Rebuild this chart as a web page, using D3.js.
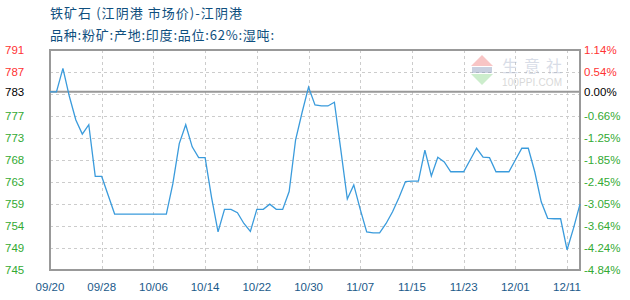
<!DOCTYPE html>
<html>
<head>
<meta charset="utf-8">
<script src="https://cdn.jsdelivr.net/npm/d3@7"></script>
<style>
  body { margin: 0; background: #fff; }
  svg { display: block; }
  .grid line { stroke: #ccc; stroke-dasharray: 3,3; }
</style>
</head>
<body>
<div id="chart"></div>
<script>
// date labels every 8 points along the x index
const dateLabels = ["09/20", "09/28", "10/06", "10/14", "10/22", "10/30", "11/07", "11/15", "11/23", "12/01", "12/11"];
const priceLabels = ["745", "749", "754", "759", "763", "768", "773", "777", "783", "787", "791"];
const pctLabels = ["-4.84%", "-4.24%", "-3.64%", "-3.05%", "-2.45%", "-1.85%", "-1.25%", "-0.66%", "0.00%", "0.54%", "1.14%"];
const basePrice = 783;
const yMin = 745.1, yMax = 791.9;

// price per point
const prices = [
  783, 783, 788, 782, 777, 774, 776, 765, 765, 761,
  757, 757, 757, 757, 757, 757, 757, 757, 757, 763.4,
  772, 776, 771.3, 769, 769, 760.5, 753.2, 758, 758, 757.3,
  755, 753.3, 758, 758, 759.1, 758, 758, 761.8, 772.8, 778.6,
  784, 780.2, 780, 780, 780.8, 770.6, 760.2, 763.2, 758, 753.2,
  753, 753, 755, 757.5, 760.5, 763.9, 764, 764, 770.6, 765.1,
  769.1, 768.1, 766, 766, 766, 768.5, 771, 769.1, 769, 766,
  766, 766, 768.5, 771, 771, 766, 759.6, 756.1, 756, 756,
  749.4, 754, 759.1
];

const margin = {left: 50, right: 50, top: 50, bottom: 30};
const width = 630, height = 300;

var svg = d3.select("#chart").append("svg")
  .attr("width", width)
  .attr("height", height);

var x = d3.scaleLinear()
  .domain([0, prices.length - 1])
  .range([margin.left, width - margin.right]);

var y = d3.scaleLinear()
  .domain([yMin, yMax])
  .range([height - margin.bottom, margin.top]);

var yTicks = d3.range(priceLabels.length).map(i => yMin + i * (yMax - yMin) / (priceLabels.length - 1));
var xTicks = dateLabels.map((d, i) => i * 8);

// title
svg.append("text")
  .attr("x", 50).attr("y", 18)
  .attr("textLength", 192)
  .style("font-family", "Noto Sans CJK SC")
  .style("font-size", "13px")
  .style("fill", "#0f4f7e")
  .text("铁矿石 (江阴港 市场价)-江阴港");

svg.append("text")
  .attr("x", 50).attr("y", 40)
  .attr("textLength", 224)
  .style("font-family", "Noto Sans CJK SC")
  .style("font-size", "13px")
  .style("fill", "#0f4f7e")
  .text("品种:粉矿:产地:印度:品位:62%:湿吨:");

// grid
var grid = svg.append("g").attr("class", "grid");
grid.selectAll(".h").data(yTicks).enter().append("line")
  .attr("x1", x(0)).attr("x2", x(prices.length - 1))
  .attr("y1", d => Math.round(y(d)) + 0.5).attr("y2", d => Math.round(y(d)) + 0.5);
grid.selectAll(".v").data(xTicks).enter().append("line")
  .attr("x1", d => Math.round(x(d)) + 0.5).attr("x2", d => Math.round(x(d)) + 0.5)
  .attr("y1", y(yMax)).attr("y2", y(yMin));

// watermark
var wm = svg.append("g").attr("opacity", 0.45);
wm.append("path").attr("d", "M471,66 L482,55 L493,66 Z").attr("fill", "#f08080");
wm.append("rect").attr("x", 472).attr("y", 67).attr("width", 20).attr("height", 6).attr("fill", "#8899bb");
wm.append("path").attr("d", "M471,74 L493,74 L482,85 Z").attr("fill", "#90d890");
wm.append("text").attr("x", 502).attr("y", 72)
  .attr("textLength", 60)
  .style("font-family", "Noto Sans CJK SC").style("font-size", "16px").style("fill", "#aab4cc")
  .text("生意社");
wm.append("text").attr("x", 502).attr("y", 86)
  .attr("textLength", 60)
  .style("font-family", "Liberation Sans").style("font-size", "10px").style("fill", "#aaaaaa")
  .text("100PPI.COM");

// base line
svg.append("line")
  .attr("x1", x(0)).attr("x2", x(prices.length - 1))
  .attr("y1", y(basePrice)).attr("y2", y(basePrice))
  .attr("stroke", "#999").attr("stroke-width", 2);

// frame
svg.append("rect")
  .attr("x", x(0)).attr("y", y(yMax))
  .attr("width", x(prices.length - 1) - x(0))
  .attr("height", y(yMin) - y(yMax))
  .attr("fill", "none").attr("stroke", "#999").attr("stroke-width", 2);

// price line
var line = d3.line()
  .x((d, i) => x(i))
  .y(d => y(d));

svg.append("path")
  .datum(prices)
  .attr("d", line)
  .attr("fill", "none")
  .attr("stroke", "#3a9bdc")
  .attr("stroke-width", 1.3);

function labelColor(i) {
  if (priceLabels[i] == String(basePrice)) return "#000";
  return +priceLabels[i] > basePrice ? "#ff3333" : "#33aa33";
}
function labelY(i) {
  return priceLabels[i] == String(basePrice) ? y(basePrice) : y(yTicks[i]);
}

// left axis labels
svg.selectAll(".pl").data(priceLabels).enter().append("text")
  .attr("x", 5)
  .attr("y", (d, i) => labelY(i))
  .attr("dy", "0.35em")
  .style("font-family", "Liberation Sans")
  .style("font-size", "11.5px")
  .style("fill", (d, i) => labelColor(i))
  .text(d => d);

// right axis labels
svg.selectAll(".rl").data(pctLabels).enter().append("text")
  .attr("x", 584)
  .attr("y", (d, i) => labelY(i))
  .attr("dy", "0.35em")
  .style("font-family", "Liberation Sans")
  .style("font-size", "11.5px")
  .style("fill", (d, i) => labelColor(i))
  .text(d => d);

// x labels
svg.selectAll(".xl").data(dateLabels).enter().append("text")
  .attr("x", (d, i) => x(xTicks[i]))
  .attr("y", 287)
  .attr("dy", "0.35em")
  .style("text-anchor", "middle")
  .style("font-family", "Liberation Sans")
  .style("font-size", "11.5px")
  .style("fill", "#1a5a8a")
  .text(d => d);
</script>
</body>
</html>
